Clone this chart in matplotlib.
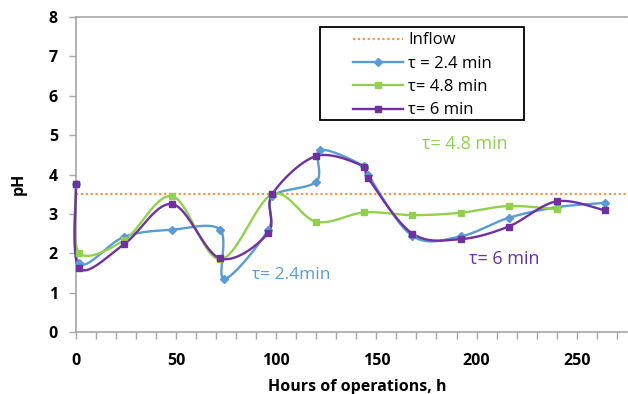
import numpy as np
import matplotlib
matplotlib.use('Agg')
import matplotlib.pyplot as plt
from matplotlib.lines import Line2D
from matplotlib.patches import Rectangle

plt.rcParams['font.family'] = ['Open Sans', 'DejaVu Sans']

# data
hours_24 = [0, 1.5, 24, 48, 72, 74, 96, 98, 120, 122, 144, 146, 168, 192, 216, 240, 264]
ph_24 = [3.75, 1.75, 2.42, 2.6, 2.6, 1.35, 2.6, 3.45, 3.82, 4.62, 4.21, 3.98, 2.44, 2.43, 2.9, 3.17, 3.28]

hours_48 = [0, 1.5, 24, 48, 72, 98, 120, 144, 168, 192, 216, 240]
ph_48 = [3.75, 2.02, 2.33, 3.45, 1.85, 3.5, 2.8, 3.04, 2.97, 3.03, 3.2, 3.12]

hours_6 = [0, 1.5, 24, 48, 72, 96, 98, 120, 144, 146, 168, 192, 216, 240, 264]
ph_6 = [3.75, 1.63, 2.23, 3.25, 1.87, 2.52, 3.5, 4.47, 4.2, 3.9, 2.5, 2.36, 2.68, 3.32, 3.09]

inflow_ph = 3.5

BLUE = '#5b9bd5'
GREEN = '#92d050'
PURPLE = '#7030a0'
ORANGE = '#f79646'


def smooth(x, y, n=30):
    # Excel style smoothed line: bezier segments with catmull-rom control points
    x = np.asarray(x, float)
    y = np.asarray(y, float)
    px = np.concatenate([[x[0]], x, [x[-1]]])
    py = np.concatenate([[y[0]], y, [y[-1]]])
    t = np.linspace(0, 1, n)
    xs, ys = [], []
    for i in range(1, len(px) - 2):
        p0 = np.array([px[i], py[i]])
        p3 = np.array([px[i + 1], py[i + 1]])
        c1 = p0 + (p3 - np.array([px[i - 1], py[i - 1]])) / 6
        c2 = p3 - (np.array([px[i + 2], py[i + 2]]) - p0) / 6
        b = ((1 - t) ** 3)[:, None] * p0 + (3 * (1 - t) ** 2 * t)[:, None] * c1 \
            + (3 * (1 - t) * t ** 2)[:, None] * c2 + (t ** 3)[:, None] * p3
        xs.append(b[:, 0])
        ys.append(b[:, 1])
    return np.concatenate(xs), np.concatenate(ys)


W, H = 628, 394
fig = plt.figure(figsize=(W / 100, H / 100), dpi=100)
ax = fig.add_axes([0.121, 0.157, 0.877, 0.800])

ax.axhline(inflow_ph, color=ORANGE, ls=(0, (1, 1.2)), lw=1.6)

series = [(hours_24, ph_24, BLUE, 'D', 4.5),
          (hours_48, ph_48, GREEN, 's', 4.5),
          (hours_6, ph_6, PURPLE, 's', 5)]
for hx, hy, c, m, ms in series:
    sx, sy = smooth(hx, hy)
    ax.plot(sx, sy, color=c, lw=1.7, clip_on=False, zorder=3)
    ax.plot(hx, hy, ls='none', marker=m, color=c, ms=ms, clip_on=False, zorder=4)

ax.set_xlim(0, 275)
ax.set_ylim(0, 8)
ax.set_xticks(np.arange(0, 251, 50))
ax.set_xticks(np.arange(0, 271, 10), minor=True)
ax.set_yticks(np.arange(0, 9, 1))

for s in ['left', 'bottom', 'top']:
    ax.spines[s].set_color('#a6a6a6')
    ax.spines[s].set_linewidth(1.2)
    ax.spines[s].set_zorder(1)
ax.spines['right'].set_visible(False)
ax.tick_params(axis='both', which='both', direction='out', length=5, color='#a6a6a6', width=1)
ax.tick_params(axis='x', pad=10, labelsize=11.5)
ax.tick_params(axis='y', pad=8, labelsize=11.5)
for lab in ax.get_xticklabels() + ax.get_yticklabels():
    lab.set_fontweight('bold')

ax.set_xlabel('Hours of operations, h', fontsize=11.5, fontweight='bold')
ax.xaxis.set_label_coords(0.51, -0.15)
ax.set_ylabel('pH', fontsize=11.5, fontweight='bold')
ax.yaxis.set_label_coords(-0.09, 0.47)

ax.text(88, 1.45, 'τ= 2.4min', color=BLUE, fontsize=12.5, va='center')
ax.text(173, 4.77, 'τ= 4.8 min', color=GREEN, fontsize=13, va='center')
ax.text(196, 1.85, 'τ= 6 min', color=PURPLE, fontsize=13, va='center')

# legend box drawn separately, Excel leaves wide margins around entries
fig.patches.append(Rectangle((320 / W, 1 - 120 / H), 204 / W, 93 / H,
                             transform=fig.transFigure, fill=False,
                             edgecolor='black', lw=1.3, zorder=5))
handles = [Line2D([], [], color=ORANGE, ls=(0, (1, 1.2)), lw=1.6),
           Line2D([], [], color=BLUE, marker='D', ms=4, lw=1.7),
           Line2D([], [], color=GREEN, marker='s', ms=4, lw=1.7),
           Line2D([], [], color=PURPLE, marker='s', ms=4, lw=1.7)]
labels = ['Inflow', 'τ = 2.4 min', 'τ= 4.8 min', 'τ= 6 min']
leg = ax.legend(handles, labels, loc='upper left',
                bbox_to_anchor=(353 / W, 1 - 32.5 / H), bbox_transform=fig.transFigure,
                fontsize=12, frameon=False, handlelength=3.0,
                labelspacing=0.44, borderpad=0, handletextpad=0.3,
                borderaxespad=0)

fig.savefig('out.png', dpi=100)
